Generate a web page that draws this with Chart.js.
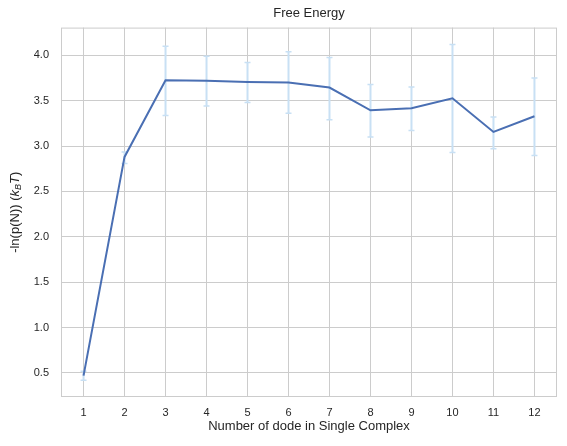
<!DOCTYPE html>
<html>
<head>
<meta charset="utf-8">
<script src="https://cdn.jsdelivr.net/npm/chart.js@4"></script>
<style>
  html, body { margin: 0; padding: 0; background: #fff; }
  #wrap { width: 567px; height: 446px; }
</style>
</head>
<body>
<div id="wrap"><canvas id="freeEnergy"></canvas></div>
<script>
// values
const nodes = [1, 2, 3, 4, 5, 6, 7, 8, 9, 10, 11, 12];
const energy = [0.47, 2.88, 3.725, 3.72, 3.706, 3.70, 3.644, 3.394, 3.416, 3.526, 3.155, 3.328];
const errLow = [0.42, 2.807, 3.336, 3.44, 3.48, 3.36, 3.29, 3.10, 3.17, 2.93, 2.97, 2.895];
const errHigh = [0.52, 2.935, 4.10, 3.99, 3.92, 4.04, 3.975, 3.677, 3.65, 4.118, 3.32, 3.75];
const yTicks = [0.5, 1.0, 1.5, 2.0, 2.5, 3.0, 3.5, 4.0];

const FONT = "'Liberation Sans', Arial, sans-serif";
const TEXT = '#262626';
const GRID = '#cccccc';

// error bars + frame + y label drawn with the chart scales
const extras = {
  id: 'extras',
  beforeDatasetsDraw(chart) {
    const { ctx, chartArea, scales } = chart;
    const x = scales.x, y = scales.y;
    ctx.save();
    ctx.strokeStyle = GRID;
    ctx.lineWidth = 1;
    ctx.strokeRect(chartArea.left + 0.5, chartArea.top + 0.5,
      chartArea.right - chartArea.left - 1, chartArea.bottom - chartArea.top - 1);

    ctx.strokeStyle = '#c8e0f4';
    nodes.forEach((n, i) => {
      const px = x.getPixelForValue(n);
      const lo = y.getPixelForValue(errLow[i]);
      const hi = y.getPixelForValue(errHigh[i]);
      ctx.lineWidth = 2;
      ctx.beginPath();
      ctx.moveTo(px, lo); ctx.lineTo(px, hi);
      ctx.stroke();
      ctx.lineWidth = 1.5;
      ctx.beginPath();
      ctx.moveTo(px - 3, lo); ctx.lineTo(px + 3, lo);
      ctx.moveTo(px - 3, hi); ctx.lineTo(px + 3, hi);
      ctx.stroke();
    });
    ctx.restore();
  },
  afterDraw(chart) {
    const { ctx, chartArea } = chart;
    const parts = [
      { t: '-ln(p(N)) (', f: '13px ' + FONT, dy: 0 },
      { t: 'k', f: 'italic 13px ' + FONT, dy: 0 },
      { t: 'B', f: 'italic 9px ' + FONT, dy: 3 },
      { t: 'T', f: 'italic 13px ' + FONT, dy: 0 },
      { t: ')', f: '13px ' + FONT, dy: 0 }
    ];
    ctx.save();
    let total = 0;
    parts.forEach(p => { ctx.font = p.f; p.w = ctx.measureText(p.t).width; total += p.w; });
    ctx.translate(15, (chartArea.top + chartArea.bottom) / 2);
    ctx.rotate(-Math.PI / 2);
    ctx.fillStyle = TEXT;
    ctx.textBaseline = 'middle';
    let cx = -total / 2;
    parts.forEach(p => {
      ctx.font = p.f;
      ctx.fillText(p.t, cx, p.dy);
      cx += p.w;
    });
    ctx.restore();
  }
};

new Chart(document.getElementById('freeEnergy'), {
  type: 'line',
  data: {
    datasets: [{
      label: 'Free Energy',
      data: nodes.map((n, i) => ({ x: n, y: energy[i] })),
      borderColor: '#4a6fb3',
      borderWidth: 2,
      pointRadius: 0,
      fill: false,
      tension: 0
    }]
  },
  options: {
    responsive: true,
    maintainAspectRatio: false,
    animation: false,
    layout: { padding: { top: 0, right: 10, bottom: 0, left: 0 } },
    plugins: {
      legend: { display: false },
      tooltip: { enabled: false },
      title: {
        display: true,
        fullSize: false,
        text: 'Free Energy',
        color: TEXT,
        font: { family: FONT, size: 13, weight: 'normal' },
        padding: { top: 6, bottom: 6 }
      }
    },
    scales: {
      x: {
        type: 'linear',
        min: 0.45,
        max: 12.55,
        afterBuildTicks: s => { s.ticks = nodes.map(v => ({ value: v })); },
        afterFit: s => { s.height = 49; },
        grid: { color: GRID, drawTicks: false },
        border: { display: false },
        ticks: {
          color: TEXT,
          padding: 9,
          font: { family: FONT, size: 11 },
          callback: v => String(v)
        },
        title: {
          display: true,
          text: 'Number of dode in Single Complex',
          color: TEXT,
          font: { family: FONT, size: 13 },
          padding: { top: 0, bottom: 12 }
        }
      },
      y: {
        type: 'linear',
        min: 0.235,
        max: 4.305,
        afterBuildTicks: s => { s.ticks = yTicks.map(v => ({ value: v })); },
        afterFit: s => { s.width = 61; },
        grid: { color: GRID, drawTicks: false },
        border: { display: false },
        ticks: {
          color: TEXT,
          padding: 12,
          font: { family: FONT, size: 11 },
          callback: v => v.toFixed(1)
        }
      }
    }
  },
  plugins: [extras]
});
</script>
</body>
</html>
